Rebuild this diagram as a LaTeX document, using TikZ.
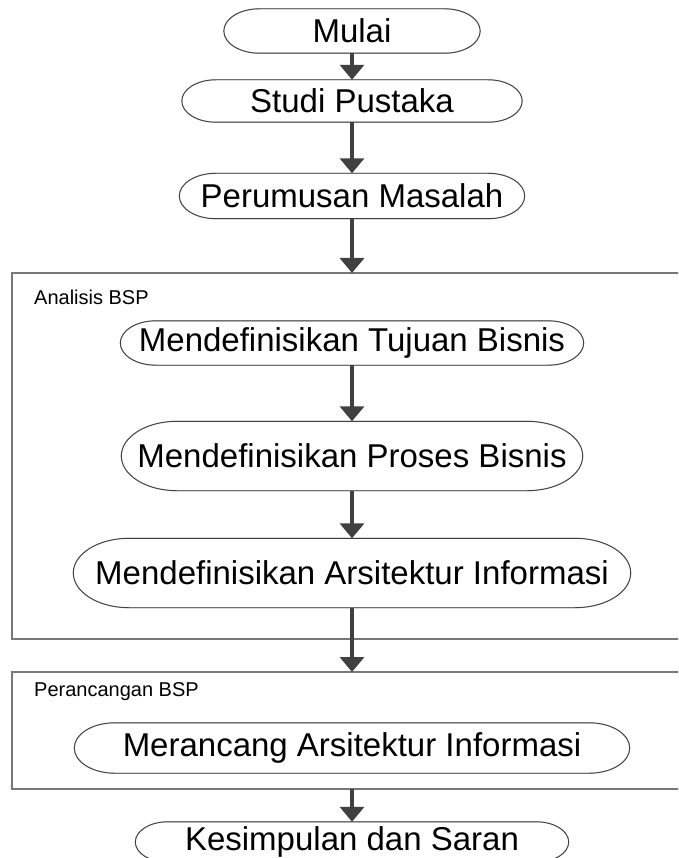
\documentclass[tikz,border=0pt]{standalone}
\usepackage{fontspec}
\setmainfont{Liberation Sans}
\usetikzlibrary{arrows.meta,calc}
\definecolor{garis}{RGB}{64,64,64}
\definecolor{bingkai}{RGB}{120,120,120}
\tikzset{
  langkah/.style={inner sep=0pt, font=\fontsize{33}{40}\selectfont},
  judul/.style={inner sep=0pt, anchor=west, font=\fontsize{20}{24}\selectfont},
  panah/.style={draw=garis, line width=3.5pt, -{Triangle[length=15pt,width=24pt]}},
  kotak/.style={draw=bingkai, line width=1.3pt},
  tepi/.style={draw=black!75, line width=0.9pt},
  bayang/.style={draw=black!20, line width=1.2pt}
}
\begin{document}
\begin{tikzpicture}[x=1pt,y=1pt]
  \clip (0,0) rectangle (678,-858);
  \draw (352,-31)  node[langkah, minimum width=256pt, minimum height=44pt] (mulai) {Mulai};
  \draw (352,-101) node[langkah, minimum width=340pt, minimum height=42pt] (studi) {Studi Pustaka};
  \draw (352,-196) node[langkah, minimum width=345pt, minimum height=45pt] (rumusan) {Perumusan Masalah};
  \draw[kotak] (690,-273) -- (12,-273) -- (12,-639) -- (690,-639);
  \draw (34,-297) node[judul] (judulAnalisis) {Analisis BSP};
  \draw (352,-343) node[langkah, minimum width=463pt, minimum height=44pt] (tujuan) {Mendefinisikan Tujuan Bisnis};
  \draw (352,-456) node[langkah, minimum width=461pt, minimum height=69pt] (proses) {Mendefinisikan Proses Bisnis};
  \draw (352,-573) node[langkah, minimum width=557pt, minimum height=69pt] (arsitektur) {Mendefinisikan Arsitektur Informasi};
  \draw[kotak] (690,-672) -- (12,-672) -- (12,-789) -- (690,-789);
  \draw (34,-692) node[judul] (judulPerancangan) {Perancangan BSP};
  \draw (352,-748) node[langkah, minimum width=555pt, minimum height=50pt] (merancang) {Merancang Arsitektur Informasi};
  \draw (352,-842) node[langkah, minimum width=433pt, minimum height=40pt] (kesimpulan) {Kesimpulan dan Saran};
  \coordinate (analisisAtas) at (352,-273);
  \coordinate (analisisBawah) at (352,-639);
  \coordinate (perancanganAtas) at (352,-672);
  \coordinate (perancanganBawah) at (352,-789);
  \foreach \nd in {mulai,studi,rumusan,tujuan,proses,arsitektur,merancang,kesimpulan}{
    \draw[bayang, xshift=1.5pt, yshift=-1.5pt] let \p1=(\nd.north west), \p2=(\nd.south east),
      \n1={0.5*(\y1-\y2)}, \n2={0.8*(\y1-\y2)} in
      (\x1+\n2,\y1) -- (\x2-\n2,\y1) arc[start angle=90, end angle=-90, x radius=\n2, y radius=\n1]
      -- (\x1+\n2,\y2) arc[start angle=270, end angle=90, x radius=\n2, y radius=\n1] -- cycle;
    \draw[tepi] let \p1=(\nd.north west), \p2=(\nd.south east),
      \n1={0.5*(\y1-\y2)}, \n2={0.8*(\y1-\y2)} in
      (\x1+\n2,\y1) -- (\x2-\n2,\y1) arc[start angle=90, end angle=-90, x radius=\n2, y radius=\n1]
      -- (\x1+\n2,\y2) arc[start angle=270, end angle=90, x radius=\n2, y radius=\n1] -- cycle;
  }
  \draw[panah] (mulai) -- (studi);
  \draw[panah] (studi) -- (rumusan);
  \draw[panah] (rumusan) -- (analisisAtas);
  \draw[panah] (tujuan) -- (proses);
  \draw[panah] (proses) -- (arsitektur);
  \draw[panah] (arsitektur) -- (perancanganAtas);
  \draw[panah] (perancanganBawah) -- (kesimpulan);
\end{tikzpicture}
\end{document}
